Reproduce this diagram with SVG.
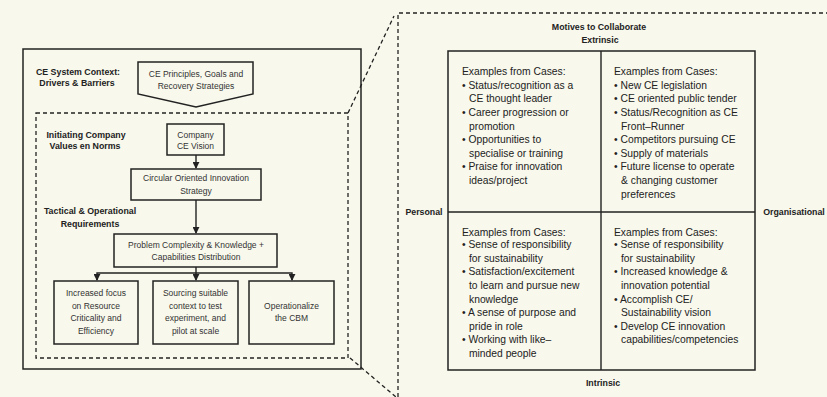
<svg xmlns="http://www.w3.org/2000/svg" width="827" height="397" viewBox="0 0 827 397">
<defs>
<marker id="ah" viewBox="0 0 8 8" refX="7" refY="4" markerWidth="5" markerHeight="5" orient="auto"><path d="M0,0 L8,4 L0,8 z" fill="#222"/></marker>
<style>
.box{fill:#f8f8ec;stroke:#222;stroke-width:1.5}
.dash{fill:none;stroke:#222;stroke-width:1.3;stroke-dasharray:4,3}
.ln{fill:none;stroke:#222;stroke-width:1.4}
.t{font-family:"Liberation Sans",Arial,sans-serif;font-size:8.5px;fill:#333;text-anchor:middle}
.b{font-family:"Liberation Sans",Arial,sans-serif;font-size:8.8px;font-weight:bold;fill:#222;text-anchor:middle}
.q{font-family:"Liberation Sans",Arial,sans-serif;font-size:10.3px;fill:#222}
</style>
</defs>
<rect width="827" height="397" fill="#f8f8ec"/>

<g id="right-frame"><path class="dash" d="M398,397 L398,13 L827,13"/></g>
<g id="left-frame"><rect class="box" x="23" y="49" width="338" height="320"/></g>
<g id="inner-frame"><rect class="dash" x="36" y="113" width="312" height="245"/></g>

<g id="labels-left">
<text class="b" x="78" y="75">CE System Context:</text>
<text class="b" x="77" y="86">Drivers &amp; Barriers</text>
<text class="b" x="86" y="138">Initiating Company</text>
<text class="b" x="85" y="149">Values en Norms</text>
<text class="b" x="90" y="214">Tactical &amp; Operational</text>
<text class="b" x="90" y="227">Requirements</text>
</g>

<g id="n-principles">
<path class="box" d="M138,62 L253,62 L253,94 L196,107 L138,94 Z"/>
<text class="t" x="196" y="77">CE Principles, Goals and</text>
<text class="t" x="196" y="89">Recovery Strategies</text>
</g>
<g id="n-vision">
<rect class="box" x="167" y="124" width="57" height="31"/>
<text class="t" x="195.5" y="138">Company</text>
<text class="t" x="195.5" y="149">CE Vision</text>
</g>
<g id="n-strategy">
<rect class="box" x="131" y="169" width="130" height="31"/>
<text class="t" x="196" y="181">Circular Oriented Innovation</text>
<text class="t" x="196" y="194">Strategy</text>
</g>
<g id="n-problem">
<rect class="box" x="114" y="234" width="163" height="33"/>
<text class="t" x="196" y="248">Problem Complexity &amp; Knowledge +</text>
<text class="t" x="196" y="260">Capabilities Distribution</text>
</g>
<g id="n-resource">
<rect class="box" x="54" y="281" width="84" height="63"/>
<text class="t" x="96" y="296">Increased focus</text>
<text class="t" x="96" y="309">on Resource</text>
<text class="t" x="96" y="321">Criticality and</text>
<text class="t" x="96" y="334">Efficiency</text>
</g>
<g id="n-sourcing">
<rect class="box" x="153" y="281" width="85" height="63"/>
<text class="t" x="195.5" y="296">Sourcing suitable</text>
<text class="t" x="195.5" y="309">context to test</text>
<text class="t" x="195.5" y="321">experiment, and</text>
<text class="t" x="195.5" y="334">pilot at scale</text>
</g>
<g id="n-cbm">
<rect class="box" x="249" y="281" width="85" height="63"/>
<text class="t" x="291.5" y="309">Operationalize</text>
<text class="t" x="291.5" y="321">the CBM</text>
</g>

<g id="connectors">
<path class="ln" d="M196,155 L196,168" marker-end="url(#ah)"/>
<path class="ln" d="M196,200 L196,233" marker-end="url(#ah)"/>
<path class="ln" d="M196,267 L196,280" marker-end="url(#ah)"/>
<path class="ln" d="M97,280 L97,273 L292,273 L292,280"/>
<path class="ln" d="M97,274 L97,280" marker-end="url(#ah)"/>
<path class="ln" d="M292,274 L292,280" marker-end="url(#ah)"/>
<path class="dash" d="M348,113 L394,16"/>
<path class="dash" d="M350,358 L396,397"/>
</g>

<g id="matrix">
<rect class="box" x="448" y="51" width="307" height="319"/>
<path class="ln" d="M601,51 L601,370 M448,212 L755,212"/>
<text class="b" x="599" y="30">Motives to Collaborate</text>
<text class="b" x="600" y="43">Extrinsic</text>
<text class="b" x="424" y="215">Personal</text>
<text class="b" x="794" y="215">Organisational</text>
<text class="b" x="603" y="386">Intrinsic</text>
</g>

<g id="q-tl" class="q">
<text x="462" y="75">Examples from Cases:</text>
<text x="462" y="89">• Status/recognition as a</text>
<text x="469" y="102">CE thought leader</text>
<text x="462" y="116">• Career progression or</text>
<text x="469" y="130">promotion</text>
<text x="462" y="143">• Opportunities to</text>
<text x="469" y="157">specialise or training</text>
<text x="462" y="170">• Praise for innovation</text>
<text x="469" y="184">ideas/project</text>
</g>
<g id="q-tr" class="q">
<text x="614" y="75">Examples from Cases:</text>
<text x="614" y="89">• New CE legislation</text>
<text x="614" y="102">• CE oriented public tender</text>
<text x="614" y="116">• Status/Recognition as CE</text>
<text x="621" y="130">Front–Runner</text>
<text x="614" y="143">• Competitors pursuing CE</text>
<text x="614" y="157">• Supply of materials</text>
<text x="614" y="170">• Future license to operate</text>
<text x="621" y="184">&amp; changing customer</text>
<text x="621" y="198">preferences</text>
</g>
<g id="q-bl" class="q">
<text x="462" y="236">Examples from Cases:</text>
<text x="462" y="248">• Sense of responsibility</text>
<text x="469" y="262">for sustainability</text>
<text x="462" y="275">• Satisfaction/excitement</text>
<text x="469" y="289">to learn and pursue new</text>
<text x="469" y="303">knowledge</text>
<text x="462" y="316">• A sense of purpose and</text>
<text x="469" y="330">pride in role</text>
<text x="462" y="343">• Working with like–</text>
<text x="469" y="357">minded people</text>
</g>
<g id="q-br" class="q">
<text x="614" y="236">Examples from Cases:</text>
<text x="614" y="248">• Sense of responsibility</text>
<text x="621" y="262">for sustainability</text>
<text x="614" y="275">• Increased knowledge &amp;</text>
<text x="621" y="289">innovation potential</text>
<text x="614" y="303">• Accomplish CE/</text>
<text x="621" y="316">Sustainability vision</text>
<text x="614" y="330">• Develop CE innovation</text>
<text x="621" y="343">capabilities/competencies</text>
</g>
</svg>
